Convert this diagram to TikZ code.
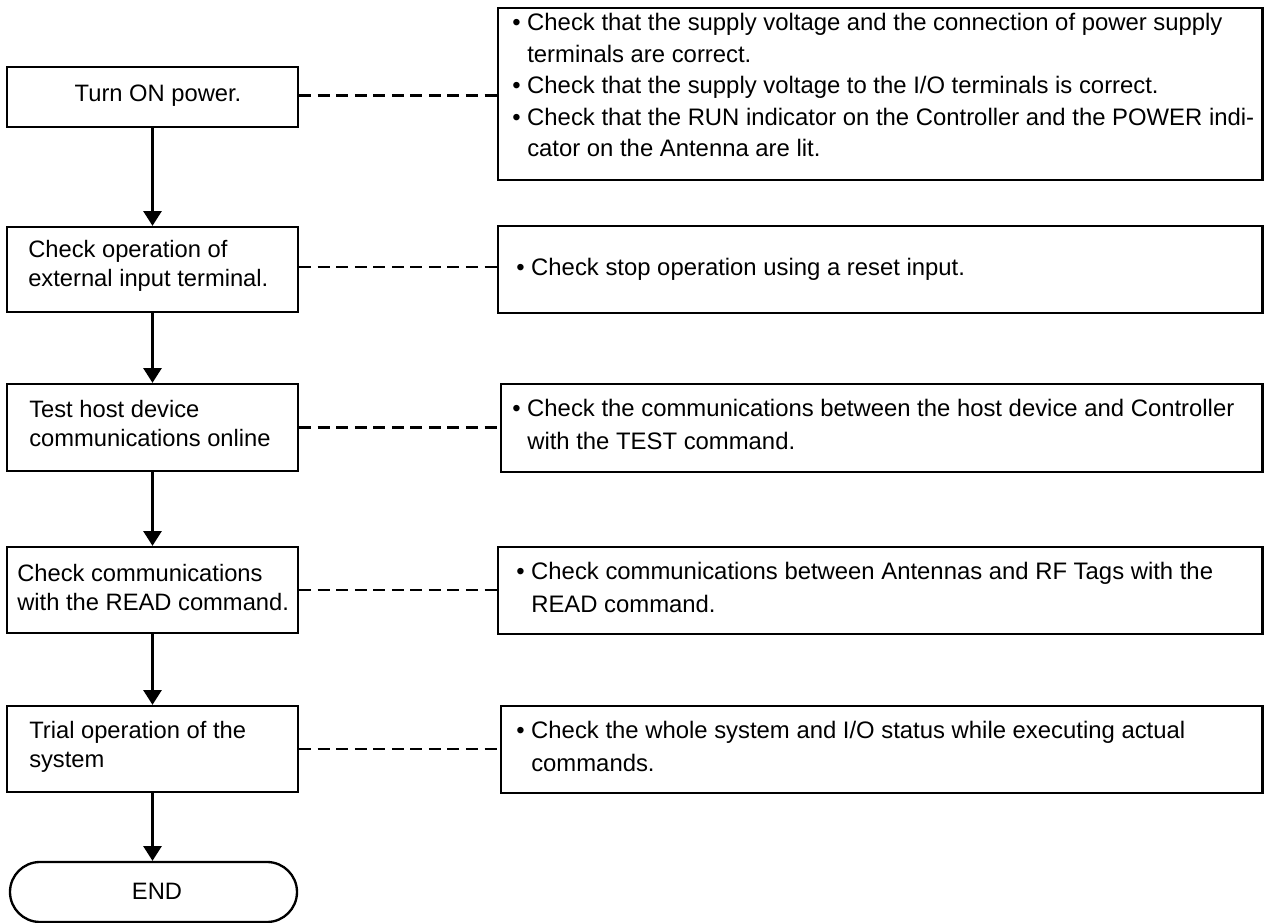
\documentclass[tikz,border=0pt]{standalone}
\usepackage{fontspec}
\setmainfont{Liberation Sans}
\usetikzlibrary{arrows.meta}
\newcommand{\mkbox}[5]{\node[box, minimum width={(#4-#2)*0.75pt}, minimum height={(#5-#3)*0.75pt}] (#1) at ({(#2+#4)/2},{(#3+#5)/2}) {};}
\begin{document}
\begin{tikzpicture}[x=0.75pt,y=-0.75pt,
  box/.style={draw, line width=1.75pt, inner sep=0pt},
  ltxt/.style={font=\fontsize{17.8pt}{21pt}\selectfont, inner sep=0pt, anchor=base west},
  rtxt/.style={font=\fontsize{17.9pt}{21pt}\selectfont, inner sep=0pt, anchor=base west},
  flow/.style={line width=1.75pt, -{Triangle[width=13.5pt,length=11pt]}},
  link/.style={line width=1.75pt, dash pattern=on 9pt off 4.9pt}]
\useasboundingbox (0,0) rectangle (1265,923);

% left boxes
\mkbox{b1}{7}{67}{298}{127}
\mkbox{b2}{7}{227}{298}{312}
\mkbox{b3}{7}{384}{298}{471}
\mkbox{b4}{7}{547}{298}{633}
\mkbox{b5}{7}{706}{298}{792}
\node[box, rounded corners=22.5pt, minimum width={287*0.75pt}, minimum height={60*0.75pt}] (endn) at (153.5,892) {};

% right boxes
\mkbox{r1}{498}{8}{1262.5}{180}
\mkbox{r2}{498}{226}{1262.5}{313}
\mkbox{r3}{501}{384}{1262.5}{472}
\mkbox{r4}{498}{547}{1262.5}{634}
\mkbox{r5}{501}{706}{1262.5}{793}

% left texts
\node[ltxt, anchor=base] (t1) at (158,102) {Turn ON power.};
\node[ltxt] (t2a) at (28,258) {Check operation of};
\node[ltxt] (t2b) at (28,287) {external input terminal.};
\node[ltxt] (t3a) at (29,418) {Test host device};
\node[ltxt] (t3b) at (29,447) {communications online};
\node[ltxt] (t4a) at (17,582) {Check communications};
\node[ltxt] (t4b) at (17,611) {with the READ command.};
\node[ltxt] (t5a) at (29,738) {Trial operation of the};
\node[ltxt] (t5b) at (29,767) {system};
\node[ltxt, anchor=base] (tend) at (157,899) {END};

% right texts
\node[rtxt] (s1a) at (512,31) {\textbullet\ Check that the supply voltage and the connection of power supply};
\node[rtxt] (s1b) at (527,62.5) {terminals are correct.};
\node[rtxt] (s1c) at (512,94) {\textbullet\ Check that the supply voltage to the I/O terminals is correct.};
\node[rtxt] (s1d) at (512,125.5) {\textbullet\ Check that the RUN indicator on the Controller and the POWER indi-};
\node[rtxt] (s1e) at (527,157) {cator on the Antenna are lit.};
\node[rtxt] (s2a) at (516,276) {\textbullet\ Check stop operation using a reset input.};
\node[rtxt] (s3a) at (512,417) {\textbullet\ Check the communications between the host device and Controller};
\node[rtxt] (s3b) at (527,450) {with the TEST command.};
\node[rtxt] (s4a) at (516,579.5) {\textbullet\ Check communications between Antennas and RF Tags with the};
\node[rtxt] (s4b) at (531,612.5) {READ command.};
\node[rtxt] (s5a) at (516,738.5) {\textbullet\ Check the whole system and I/O status while executing actual};
\node[rtxt] (s5b) at (531,771.5) {commands.};

% flow arrows
\draw[flow] (b1.south) -- (b2.north);
\draw[flow] (b2.south) -- (b3.north);
\draw[flow] (b3.south) -- (b4.north);
\draw[flow] (b4.south) -- (b5.north);
\draw[flow] (b5.south) -- (b5.south |- endn.north);

% dashed links
\draw[link] (b1.east) ++(0,-1.5) coordinate (c1) (c1) -- (c1 -| r1.west);
\draw[link] (b2.east) ++(0,-2.5) coordinate (c2) (c2) -- (c2 -| r2.west);
\draw[link] (b3.east) -- (b3.east -| r3.west);
\draw[link] (b4.east) -- (b4.east -| r4.west);
\draw[link] (b5.east) -- (b5.east -| r5.west);
\end{tikzpicture}
\end{document}
